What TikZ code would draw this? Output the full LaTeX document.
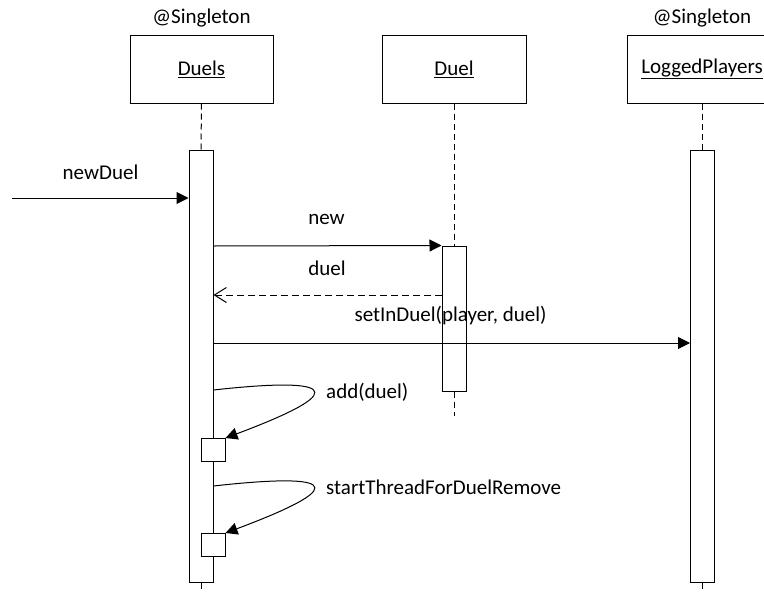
\documentclass[tikz,border=0pt]{standalone}
\usepackage{fontspec}
\setmainfont{Carlito}
\usetikzlibrary{arrows.meta}

\tikzset{
  headbox/.style={draw, line width=1pt, minimum height=68pt, inner sep=0pt},
  actbar/.style={draw, line width=1pt, fill=white, minimum width=24pt, inner sep=0pt},
  selfbox/.style={draw, line width=1pt, fill=white, minimum width=24pt, minimum height=23pt, inner sep=0pt},
  lifeline/.style={line width=1pt, dash pattern=on 6pt off 4pt},
  call/.style={line width=1pt, -{Triangle[length=12pt,width=12pt]}},
  reply/.style={line width=1pt, dash pattern=on 7pt off 4pt, -{Straight Barb[length=12pt,width=15pt,line width=1pt]}},
  lbl/.style={inner sep=0pt}
}

\begin{document}
\begin{tikzpicture}[x=1pt, y=-1pt, every node/.style={font=\fontsize{21pt}{25pt}\selectfont}]
\useasboundingbox (0,0) rectangle (764,592);

% object heads
\node[headbox, minimum width=143pt] (duels) at (201.5,69) {\underline{Duels}};
\node[headbox, minimum width=144pt] (duel) at (454,69) {\underline{Duel}};
\node[headbox, minimum width=150pt] (players) at (702,69) {\underline{LoggedPlayers}};
\node[lbl] (st1) at (201.5,18) {@Singleton};
\node[lbl] (st2) at (702,18) {@Singleton};

% activation bars
\node[actbar, minimum height=432pt] (duelsbar) at (201,366) {};
\node[actbar, minimum height=145pt] (duelbar) at (454,318.5) {};
\node[actbar, minimum height=432pt] (playersbar) at (702.5,366) {};

% lifelines
\draw[lifeline] (duels.south) -- (duelsbar.north);
\draw[lifeline] (duelsbar.south) -- (duelsbar.south |- 0,592);
\draw[lifeline] (duel.south) -- (duelbar.north);
\draw[lifeline] (duelbar.south) -- (duelbar.south |- 0,416);
\draw[lifeline] (players.south -| playersbar) -- (playersbar.north);
\draw[lifeline] (playersbar.south) -- (playersbar.south |- 0,592);

% self-call boxes
\node[selfbox] (addbox) at (213,450) {};
\node[selfbox] (threadbox) at (213,545) {};

% incoming call
\coordinate (caller) at (12,198);
\draw[call] (caller) -- (duelsbar.west |- caller);
\node[lbl] (lnewduel) at (100.5,172) {newDuel};

% creation and reply
\draw[call] (duelsbar.east |- 0,246) -- (duelbar.north west);
\node[lbl] (lnew) at (326.5,219) {new};
\draw[reply] (duelbar.west |- 0,295) -- (duelsbar.east |- 0,295);
\node[lbl] (lduel) at (327,268) {duel};

% call to LoggedPlayers
\draw[call] (duelsbar.east |- 0,343) -- (playersbar.west |- 0,343);
\node[lbl] (lset) at (450.5,316) {setInDuel(player, duel)};

% self calls
\draw[call] (duelsbar.east |- 0,390) .. controls +(107,-12) and +(139,-52) .. (addbox.north east);
\node[lbl, anchor=west] (ladd) at (326,392) {add(duel)};
\draw[call] (duelsbar.east |- 0,486) .. controls +(107,-12) and +(139,-52) .. (threadbox.north east);
\node[lbl, anchor=west] (lthread) at (326,487) {startThreadForDuelRemove};
\end{tikzpicture}
\end{document}
